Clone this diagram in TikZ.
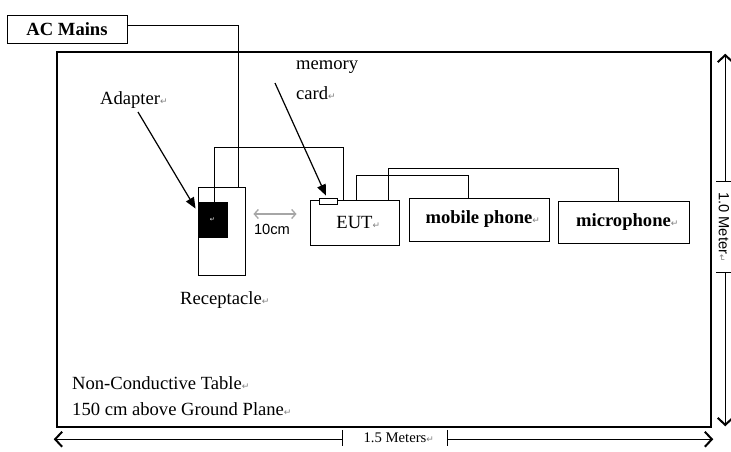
\documentclass[tikz,border=0pt]{standalone}
\usepackage{fontspec}
\setmainfont{Liberation Serif}
\setsansfont{Liberation Sans}
\newfontfamily\retfont{DejaVu Sans}
\usetikzlibrary{arrows.meta}
\newcommand{\pmark}{{\retfont\fontsize{9}{9}\selectfont\color{gray}↵}}

\begin{document}
\begin{tikzpicture}[x=1pt,y=-1pt,
  txt/.style={font=\fontsize{18.6}{22}\selectfont,inner sep=0pt},
  sanstxt/.style={font=\sffamily\fontsize{14.7}{17}\selectfont,inner sep=0pt},
  unit/.style={draw,line width=0.9pt,inner sep=0pt,font=\fontsize{18.6}{22}\selectfont},
  wire/.style={line width=1pt},
  pointer/.style={line width=1.2pt,-{Triangle[length=11pt,width=9pt]}},
  dimline/.style={line width=0.9pt,{Straight Barb[length=7pt,width=15pt,line width=2pt]}-{Straight Barb[length=7pt,width=15pt,line width=2pt]}},
  dimlabel/.style={fill=white,inner sep=0pt,minimum height=16pt}]

\useasboundingbox (0,0) rectangle (731,451);

% table
\node[draw,line width=2.5pt,minimum width=654pt,minimum height=375pt,inner sep=0pt] (table) at (384,239.5) {};

% boxes
\node[unit,minimum width=120pt,minimum height=28pt] (mains) at (67,29) {\textbf{AC Mains}};
\node[unit,minimum width=47pt,minimum height=88pt] (recept) at (221.5,231) {};
\node[unit,fill=black,minimum width=29pt,minimum height=35pt] (adapter) at (212.5,219.5) {\textcolor{white}{\retfont\fontsize{6}{6}\selectfont ↵}};
\node[unit,minimum width=89pt,minimum height=45pt] (eut) at (354.5,222.5) {EUT\rlap{\pmark}};
\node[unit,minimum width=140pt,minimum height=43pt] (phone) at (479,219.5) {\textbf{mobile phone}\rlap{\pmark}};
\node[unit,minimum width=131pt,minimum height=42pt] (mic) at (623.5,222) {\textbf{microphone}\rlap{\pmark}};
\node[unit,fill=white,minimum width=18pt,minimum height=6pt] (card) at (328,201) {};

% wires
\draw[wire] ([yshift=4pt]mains.east) -| ([xshift=16.5pt]recept.north);
\draw[wire] ([xshift=1.5pt]adapter.north) -- ++(0,-54) -| ([xshift=-11.5pt]eut.north);
\draw[wire] ([xshift=1.5pt]eut.north) -- ++(0,-24) -| ([xshift=-11pt]phone.north);
\draw[wire] ([xshift=33.5pt]eut.north) -- ++(0,-31) -| ([xshift=-5.5pt]mic.north);

% labels
\node[txt,anchor=base west] (adaptlbl) at (100,104) {Adapter\pmark};
\node[txt,anchor=base west] (memlbl) at (296,69) {memory};
\node[txt,anchor=base west] (cardlbl) at (296,99) {card\pmark};
\node[txt,anchor=base west] (receptlbl) at (180,304) {Receptacle\pmark};
\node[txt,anchor=base west] (tablelbl) at (72,389) {Non-Conductive Table\pmark};
\node[txt,anchor=base west] (groundlbl) at (72,415) {150 cm above Ground Plane\pmark};

\coordinate (adaptfrom) at (138,112);
\draw[pointer] (adaptfrom) -- ([shift={(-2pt,-7pt)}]adapter.north west);
\coordinate (memfrom) at (275,83);
\draw[pointer] (memfrom) -- ([shift={(-2pt,2pt)}]card.north);

% 10cm gap
\draw[gray!70,line width=1.3pt,{Straight Barb[length=4pt,width=9pt]}-{Straight Barb[length=4pt,width=9pt]}] ([shift={(8pt,17pt)}]recept.east) -- ([shift={(-13pt,8.5pt)}]eut.west);
\node[sanstxt] (gaplbl) at (272,229) {10cm};

% dimensions
\draw[dimline] ([shift={(-2pt,-11pt)}]table.south west) -- ([shift={(1pt,-11pt)}]table.south east);
\node[dimlabel,minimum width=104pt,font=\fontsize{14.7}{17}\selectfont] (widthlbl) at (395,438) {1.5 Meters\rlap{\pmark}};
\draw[line width=0.9pt] (widthlbl.north west) -- (widthlbl.south west) (widthlbl.north east) -- (widthlbl.south east);

\draw[dimline] ([shift={(13pt,-3pt)}]table.north east) -- ([shift={(13pt,2pt)}]table.south east);
\node[dimlabel,rotate=-90,minimum width=90pt,font=\sffamily\fontsize{14.7}{17}\selectfont] (heightlbl) at (724,227) {1.0 Meter\pmark};
\draw[line width=0.9pt] (heightlbl.north west) -- (heightlbl.south west) (heightlbl.north east) -- (heightlbl.south east);

\end{tikzpicture}
\end{document}
